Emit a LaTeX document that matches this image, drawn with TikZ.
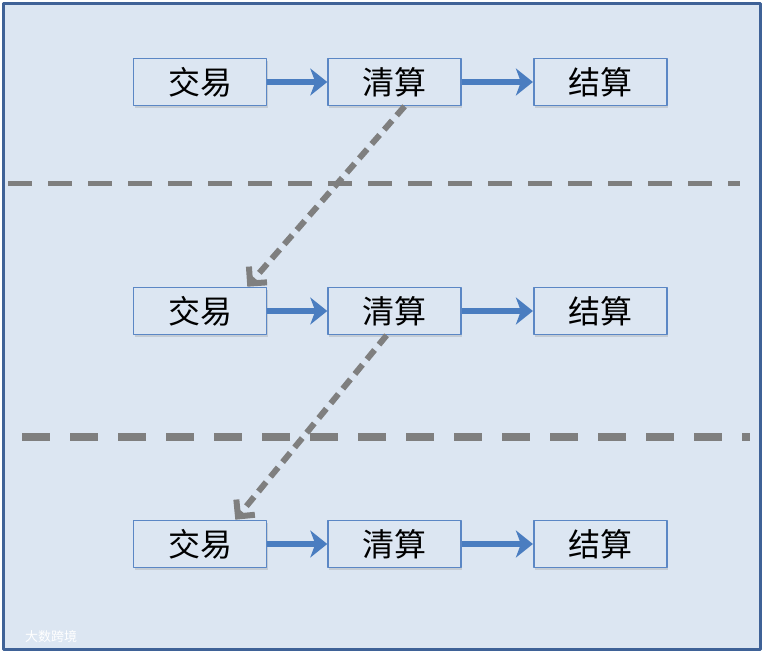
\documentclass[tikz,border=0pt]{standalone}
\usepackage{fontspec}
\newfontfamily\cjk{Noto Sans CJK SC}
\usetikzlibrary{positioning,arrows.meta,shadows}
\definecolor{bgblue}{HTML}{DCE6F2}
\definecolor{frameblue}{HTML}{3F6297}
\definecolor{boxblue}{HTML}{5B87C5}
\definecolor{flowblue}{HTML}{4A7DC0}
\definecolor{dashgray}{HTML}{7F7F7F}
\tikzset{
  stepbox/.style={draw=boxblue, line width=1.6pt, fill=bgblue, minimum width=133pt, minimum height=47pt, inner sep=0pt,
    drop shadow={opacity=0.25, shadow xshift=1pt, shadow yshift=-2pt}},
  flow/.style={draw=flowblue, line width=6.5pt, -{Stealth[length=17pt,width=27pt,inset=5pt]}},
  jump/.style={draw=dashgray, line width=6pt, dash pattern=on 12pt off 7pt, -{Straight Barb[length=12pt,width=24pt]}}
}
\begin{document}
\begin{tikzpicture}[x=1pt, y=-1pt, font=\cjk\fontsize{32}{32}\selectfont, line join=round, >=stealth]
				\useasboundingbox (0,0) rectangle (764,654);
				\draw[frameblue, line width=3pt, fill=bgblue] (3,3) rectangle (760,649);
				% three rows of the cycle
				\foreach \r/\y in {1/82,2/311,3/544}
					{\node[stepbox] (jy\r) at (200,\y) {交易};
					\node[stepbox, right=60pt of jy\r] (qs\r) {清算};
					\node[stepbox, right=71pt of qs\r] (js\r) {结算};
					\draw[flow] (jy\r) -- (qs\r);
					\draw[flow] (qs\r) -- (js\r);}
				% day boundaries
				\draw[dashgray, line width=5pt, dash pattern=on 24pt off 16pt] (8,183) -- (740,183);
				\draw[dashgray, line width=8pt, dash pattern=on 28pt off 20pt] (22,437) -- (750,437);
				% clearing leads to next trade
				\draw[jump] (qs1.south) ++(10,0) -- ([xshift=-20pt]jy2.north east);
				\draw[jump] (qs2.south) ++(-8,0) -- ([xshift=-32pt]jy3.north east);
				\node[white, font=\cjk\fontsize{13}{13}\selectfont, anchor=west, inner sep=0pt] (mark) at (25,637) {大数跨境};
			\end{tikzpicture}
\end{document}
